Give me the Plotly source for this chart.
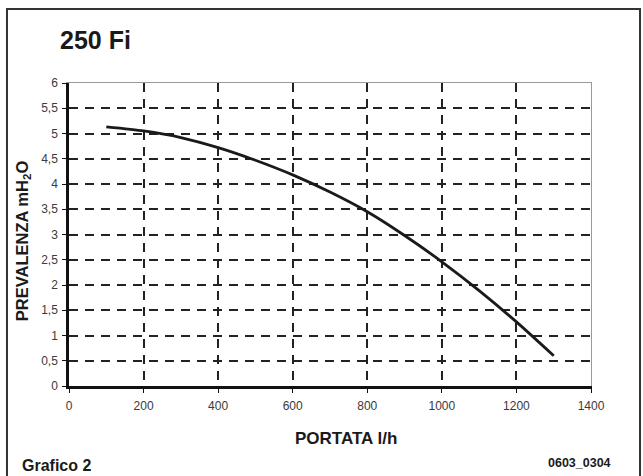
import plotly.graph_objects as go

# Data
portata = [100, 200, 300, 400, 500, 600, 700, 800, 900, 1000, 1100, 1200, 1300]
prevalenza = [5.13, 5.05, 4.92, 4.72, 4.47, 4.18, 3.84, 3.45, 2.98, 2.46, 1.89, 1.27, 0.60]

x_tickvals = [0, 200, 400, 600, 800, 1000, 1200, 1400]
x_ticktext = ["0", "200", "400", "600", "800", "1000", "1200", "1400"]
y_tickvals = [0, 0.5, 1, 1.5, 2, 2.5, 3, 3.5, 4, 4.5, 5, 5.5, 6]
y_ticktext = ["0", "0,5", "1", "1,5", "2", "2,5", "3", "3,5", "4", "4,5", "5", "5,5", "6"]

FONT = "Liberation Sans, Arial, Helvetica, sans-serif"

fig = go.Figure()
fig.add_trace(go.Scatter(
    x=portata, y=prevalenza, mode="lines",
    line=dict(color="#1a1a1a", width=2.8, shape="spline", smoothing=0.6),
    showlegend=False, hoverinfo="skip",
))

grid = dict(showgrid=True, gridcolor="#222222", gridwidth=1.5, griddash="9px,7px")

fig.update_layout(
    width=643, height=476,
    margin=dict(l=69, r=52, t=83, b=90),
    paper_bgcolor="white", plot_bgcolor="white",
    font=dict(family=FONT, color="#333333", size=12),
    xaxis=dict(
        range=[0, 1400], tickvals=x_tickvals, ticktext=x_ticktext,
        showline=True, linecolor="#111111", linewidth=2.5, zeroline=False,
        ticks="outside", ticklen=4, tickcolor="#111111", tickwidth=1.3,
        ticklabelstandoff=3, tickfont=dict(size=12, color="#3a3a3a"),
        **grid,
    ),
    yaxis=dict(
        range=[0, 6], tickvals=y_tickvals, ticktext=y_ticktext,
        showline=True, linecolor="#111111", linewidth=2.5, zeroline=False,
        ticks="outside", ticklen=4, tickcolor="#111111", tickwidth=1.3,
        ticklabelstandoff=2, tickfont=dict(size=12, color="#3a3a3a"),
        **grid,
    ),
    # thin grey frame lines on top and right of the plot area
    xaxis2=dict(range=[0, 1400], overlaying="x", side="top", showline=True,
                linecolor="#9a9a9a", linewidth=1.2, showgrid=False, zeroline=False,
                showticklabels=False, ticks=""),
    yaxis2=dict(range=[0, 6], overlaying="y", side="right", showline=True,
                linecolor="#9a9a9a", linewidth=1.2, showgrid=False, zeroline=False,
                showticklabels=False, ticks=""),
    shapes=[
        dict(type="rect", xref="paper", yref="paper",
             x0=-0.1188, x1=1.0939, y0=-0.32, y1=1.244,
             line=dict(color="#333333", width=2), fillcolor="rgba(0,0,0,0)", layer="below"),
    ],
    annotations=[
        dict(text="<b>250 Fi</b>", xref="paper", yref="paper", x=-0.021, y=1.142,
             xanchor="left", yanchor="middle", showarrow=False,
             font=dict(size=25, color="#1a1a1a", family=FONT)),
        dict(text="<b>PREVALENZA mH<sub>2</sub>O</b>", xref="paper", yref="paper",
             x=-0.088, y=0.478, xanchor="center", yanchor="middle", textangle=-90,
             showarrow=False, font=dict(size=16.5, color="#1a1a1a", family=FONT)),
        dict(text="<b>PORTATA l/h</b>", xref="paper", yref="paper", x=0.531, y=-0.172,
             xanchor="center", yanchor="middle", showarrow=False,
             font=dict(size=17, color="#1a1a1a", family=FONT)),
        dict(text="<b>Grafico 2</b>", xref="paper", yref="paper", x=-0.094, y=-0.261,
             xanchor="left", yanchor="middle", showarrow=False,
             font=dict(size=16, color="#1a1a1a", family=FONT)),
        dict(text="<b>0603_0304</b>", xref="paper", yref="paper", x=1.042, y=-0.254,
             xanchor="right", yanchor="middle", showarrow=False,
             font=dict(size=12.5, color="#1a1a1a", family=FONT)),
    ],
)

# invisible helper trace so the top/right frame axes are drawn
fig.add_trace(go.Scatter(x=[None], y=[None], xaxis="x2", yaxis="y2",
                         showlegend=False, hoverinfo="skip"))

fig.write_html(
    "out.html",
    config={"displayModeBar": False},
    post_script="document.body.style.margin='0';document.body.style.overflow='hidden';",
)
